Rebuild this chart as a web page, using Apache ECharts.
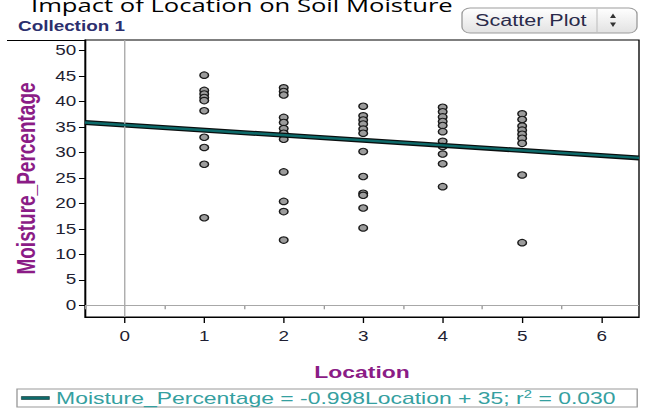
<!DOCTYPE html>
<html><head><meta charset="utf-8">
<script src="https://cdn.jsdelivr.net/npm/echarts@6/dist/echarts.min.js"></script>
<style>
html,body{margin:0;padding:0;background:#fff;overflow:hidden}
#wrap{width:646px;height:414px;overflow:hidden;position:relative;background:#fff}
#chart{width:479px;height:414px;transform-origin:0 0}
</style></head><body>
<div id="wrap"><div id="chart"></div></div>
<script>
// ---- data ----
const locations = [1, 2, 3, 4, 5];
const loc1 = [45.2, 42.2, 41.5, 40.8, 40.2, 38.2, 33.0, 31.0, 27.7, 17.2];
const loc2 = [42.7, 42.0, 41.3, 36.9, 35.9, 34.7, 33.8, 32.6, 26.2, 20.4, 18.4, 12.8];
const loc3 = [39.1, 37.2, 36.4, 35.6, 34.6, 33.8, 30.2, 25.3, 22.0, 21.6, 19.1, 15.2];
const loc4 = [38.9, 38.0, 37.0, 36.1, 35.3, 34.1, 32.2, 31.2, 29.7, 27.8, 23.3];
const loc5 = [37.6, 36.5, 35.2, 34.4, 33.6, 32.8, 31.8, 25.6, 12.3];
const xTicks = [0, 1, 2, 3, 4, 5, 6];
const xMinorTicks = [-0.5, 0.5, 1.5, 2.5, 3.5, 4.5, 5.5];
const yTicks = [0, 5, 10, 15, 20, 25, 30, 35, 40, 45, 50];
const fitSlope = -0.998;
const fitIntercept = 35.4;
const xMin = -0.5, xMax = 6.47, yMin = -2.3, yMax = 52.1;
const titleText = 'Impact of Location on Soil Moisture';
const collectionText = 'Collection 1';
const menuText = 'Scatter Plot';
const xName = 'Location';
const yName = 'Moisture_Percentage';
const eqName = 'Moisture_Percentage = -0.998Location + 35; r2 = 0.030';

// ---- horizontal stretch of the reference picture ----
const W = 479;
const SX = 646 / W;
document.getElementById('chart').style.transform = 'scaleX(' + SX + ')';
const ux = v => v / SX;

const groups = [loc1, loc2, loc3, loc4, loc5];
const scatterData = [];
groups.forEach((arr, i) => arr.forEach(v => scatterData.push([locations[i], v])));
const fitData = [[xMin, fitIntercept + fitSlope * xMin], [xMax, fitIntercept + fitSlope * xMax]];

const FONT = '"Liberation Sans", Arial, sans-serif';
const labelColor = '#1f1f33';
const nameColor = '#8b1c86';

const chart = echarts.init(document.getElementById('chart'), null, {renderer: 'svg', width: W, height: 414});
chart.setOption({
  animation: false,
  backgroundColor: '#fff',
  grid: {left: ux(85), right: W - ux(639), top: 40, bottom: 97, show: true, borderColor: '#000', borderWidth: 1, backgroundColor: 'transparent'},
  xAxis: [{
    type: 'value', min: xMin, max: xMax, position: 'bottom',
    axisLine: {show: true, onZero: false, lineStyle: {color: '#000', width: 1}},
    axisTick: {show: true, customValues: xTicks, length: 6, lineStyle: {color: '#000'}},
    axisLabel: {show: true, customValues: xTicks, margin: 12, fontSize: 14, fontFamily: FONT, color: labelColor},
    splitLine: {show: false},
    name: xName, nameLocation: 'middle', nameGap: 47,
    nameTextStyle: {fontSize: 17, fontWeight: 'bold', fontFamily: FONT, color: nameColor}
  }, {
    type: 'value', min: xMin, max: xMax, position: 'bottom', offset: 0,
    axisLine: {show: false},
    axisTick: {show: true, customValues: xMinorTicks, length: 4, lineStyle: {color: '#999'}},
    axisLabel: {show: false},
    splitLine: {show: false}
  }],
  yAxis: {
    type: 'value', min: yMin, max: yMax,
    axisLine: {show: true, onZero: false, lineStyle: {color: '#000', width: 1}},
    axisTick: {show: true, customValues: yTicks, length: 4.5, lineStyle: {color: '#000'}},
    axisLabel: {show: true, customValues: yTicks, margin: 6.5, fontSize: 14, fontFamily: FONT, color: labelColor},
    splitLine: {show: false},
    name: yName, nameLocation: 'middle', nameGap: 34,
    nameTextStyle: {fontSize: 19, fontWeight: 'bold', fontFamily: FONT, color: nameColor}
  },
  legend: {
    show: true, data: [{name: eqName, icon: 'rect'}],
    left: ux(17), top: 389, orient: 'horizontal',
    padding: [0, 16, 0, 3], borderColor: '#9a9a9a', borderWidth: 1,
    itemWidth: ux(28), itemHeight: 3,
    itemStyle: {color: '#0e6b6b', borderColor: '#0a2f2f', borderWidth: 0.5},
    formatter: () => '{t|Moisture_Percentage = -0.998Location + 35; r}{s|2}{t| = 0.030}',
    textStyle: {color: '#35a0a0', fontSize: 17, fontFamily: FONT, lineHeight: 17,
      rich: {t: {fontSize: 17, lineHeight: 17, fontFamily: FONT, color: '#35a0a0'},
             s: {fontSize: 11, lineHeight: 17, fontFamily: FONT, color: '#35a0a0', padding: [0, 0, 7, 0]}}}
  },
  series: [{
    type: 'line', data: [], z: 1, silent: true,
    markLine: {silent: true, symbol: 'none', label: {show: false},
      lineStyle: {color: '#a8a8a8', width: 1, type: 'solid'},
      data: [{xAxis: 0}, {yAxis: 0}]}
  }, {
    type: 'scatter', data: scatterData, z: 3, symbol: 'circle', symbolSize: 6.4,
    itemStyle: {color: '#9c9c9c', borderColor: '#1a1a1a', borderWidth: 1.1, opacity: 1}
  }, {
    type: 'line', data: fitData, z: 4, symbol: 'none', silent: true,
    lineStyle: {color: '#0a0f0f', width: 5}
  }, {
    name: eqName, type: 'line', data: fitData, z: 5, symbol: 'none', silent: true,
    lineStyle: {color: '#0d6a6a', width: 2.4}, itemStyle: {color: '#0d6a6a'}
  }],
  graphic: [
    {type: 'text', left: ux(31), top: -5, z: 10,
     style: {text: titleText, fontSize: 19, fontFamily: '"Open Sans", sans-serif', fill: '#000'}},
    {type: 'text', left: ux(18), top: 19, z: 10,
     style: {text: collectionText, fontSize: 14, fontWeight: 'bold', fontFamily: FONT, fill: '#2c2f6e'}},
    {type: 'line', z: 10, shape: {x1: ux(7), y1: 40.5, x2: ux(86), y2: 40.5}, style: {stroke: '#000', lineWidth: 1}},
    {type: 'group', z: 10, children: [
      {type: 'rect', shape: {x: ux(462), y: 8, width: ux(637) - ux(462), height: 25, r: 6},
       style: {fill: new echarts.graphic.LinearGradient(0, 0, 0, 1, [{offset: 0, color: '#ffffff'}, {offset: 1, color: '#e2e2e2'}]), stroke: '#9c9c9c', lineWidth: 1}},
      {type: 'line', shape: {x1: ux(597), y1: 9, x2: ux(597), y2: 32}, style: {stroke: '#c8c8c8', lineWidth: 1}},
      {type: 'text', x: ux(475), y: 20.5, style: {text: menuText, fontSize: 16, fontFamily: FONT, fill: '#2a2a4a', verticalAlign: 'middle'}},
      {type: 'polygon', shape: {points: [[ux(610), 18], [ux(616), 18], [ux(613), 13.5]]}, style: {fill: '#333'}},
      {type: 'polygon', shape: {points: [[ux(610), 22.5], [ux(616), 22.5], [ux(613), 27]]}, style: {fill: '#333'}}
    ]}
  ]
});
</script>
</body></html>
